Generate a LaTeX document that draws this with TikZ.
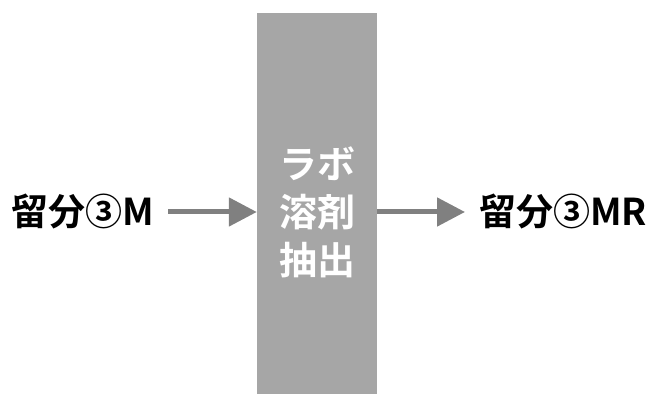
\documentclass[tikz,border=0pt]{standalone}
\usepackage{fontspec}
\newfontfamily\cjk{Noto Sans CJK JP Bold}
\usetikzlibrary{arrows.meta}
\definecolor{boxgray}{HTML}{A6A6A6}
\definecolor{arrgray}{HTML}{808080}
\tikzset{
  lbl/.style={inner sep=0pt, font=\cjk\fontsize{37}{44}\selectfont, text=black},
  labbox/.style={fill=boxgray, draw=none, minimum width=120pt, minimum height=381pt, inner sep=0pt},
  boxtxt/.style={inner sep=0pt, align=center, text=white, font=\cjk\fontsize{38}{48}\selectfont},
  arr/.style={draw=arrgray, line width=5pt, -{Triangle[length=28pt,width=28pt]}}
}
\begin{document}
\begin{tikzpicture}[x=1pt,y=1pt]
\useasboundingbox (0,0) rectangle (653,403);
\node[labbox] (lab) at (317,199.5) {};
\node[boxtxt] (labtxt) at (317,191) {ラボ\\溶剤\\抽出};
\node[lbl, anchor=west] (src) at (11,191) {留分③M};
\node[lbl, anchor=west] (dst) at (479,191) {留分③MR};
\coordinate (s1) at (168,191);
\coordinate (s2) at (465,191);
\draw[arr] (s1) -- (lab.west |- s1);
\draw[arr] (lab.east |- s2) -- (s2);
\end{tikzpicture}
\end{document}
